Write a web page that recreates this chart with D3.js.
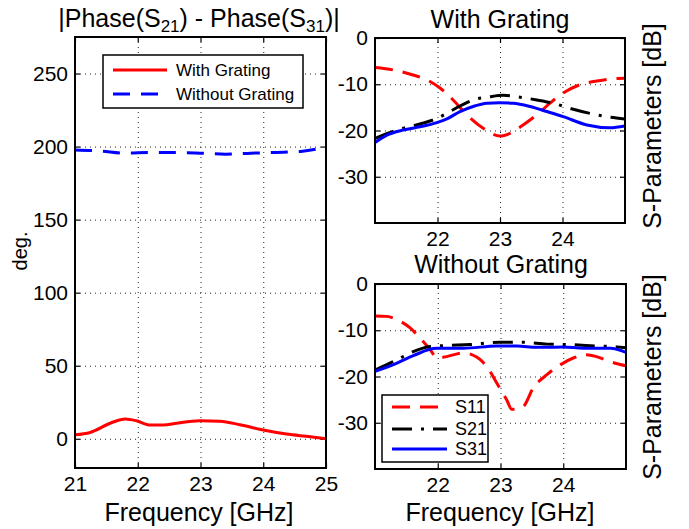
<!DOCTYPE html>
<html>
<head>
<meta charset="utf-8">
<script src="https://cdn.jsdelivr.net/npm/d3@7"></script>
<style>
  body { margin: 0; background: #fff; }
  text { font-family: "Liberation Sans", Arial, sans-serif; fill: #000; }
</style>
</head>
<body>
<svg id="chart" width="689" height="529"></svg>
<script>
// phase difference (left panel)
const phaseFreqWith = [21.0, 21.24, 21.58, 21.8, 21.98, 22.2, 22.41, 22.62, 22.99, 23.31, 23.63, 24.0, 24.37, 24.75, 25.0];
const phaseWith = [2.7, 4.3, 11, 13.5, 12.3, 9.4, 9.4, 10.7, 12.3, 12, 9.6, 6, 3.2, 1.4, 0];
const phaseFreqWithout = [21, 21.4, 21.8, 22.2, 22.6, 23.0, 23.4, 23.8, 24.2, 24.6, 25];
const phaseWithout = [197.7, 197, 195.5, 196, 196, 195.5, 194.8, 195.5, 196, 196.7, 199.5];
const phaseXTicks = [21, 22, 23, 24, 25];
const phaseYTicks = [0, 50, 100, 150, 200, 250];

// S-parameters with grating (top right)
const s11WithFreq = [21.0, 21.29, 21.61, 21.88, 22.04, 22.25, 22.47, 22.73, 23.0, 23.16, 23.37, 23.59, 23.8, 24.01, 24.28, 24.55, 24.81, 25.0];
const s11With = [-6.4, -6.9, -8.0, -9.4, -10.8, -13.4, -16.6, -19.5, -21.2, -20.6, -18.8, -16.6, -14.1, -11.9, -10.1, -9.3, -8.8, -8.7];
const s21WithFreq = [21.0, 21.35, 21.72, 21.99, 22.2, 22.36, 22.57, 22.84, 23.05, 23.32, 23.59, 23.85, 24.12, 24.44, 24.71, 25.0];
const s21With = [-21.7, -19.9, -18.6, -17.4, -15.9, -14.7, -13.4, -12.7, -12.4, -12.8, -13.4, -14.1, -15.2, -16.3, -17.0, -17.5];
const s31WithFreq = [21.0, 21.19, 21.45, 21.72, 21.99, 22.15, 22.36, 22.57, 22.79, 23.0, 23.21, 23.48, 23.75, 24.01, 24.39, 24.76, 25.0];
const s31With = [-22.6, -21.0, -19.9, -19.2, -18.3, -17.5, -15.9, -14.8, -14.1, -14.0, -14.1, -14.8, -15.9, -17.0, -18.8, -19.4, -19.0];

// S-parameters without grating (bottom right)
const s11WithoutFreq = [21.0, 21.19, 21.35, 21.56, 21.72, 21.88, 21.99, 22.14, 22.41, 22.62, 22.78, 22.94, 23.1, 23.18, 23.36, 23.52, 23.74, 23.95, 24.16, 24.37, 24.53, 24.75, 25.0];
const s11Without = [-6.9, -7.0, -7.7, -9.5, -11.7, -14.2, -16.0, -15.7, -14.9, -15.8, -17.8, -21.4, -25.1, -27.1, -26.5, -22.5, -19.6, -17.5, -16.0, -15.3, -15.7, -16.8, -17.7];
const s21WithoutFreq = [21.0, 21.35, 21.61, 21.88, 22.14, 22.51, 22.99, 23.36, 23.74, 24.11, 24.53, 24.85, 25.0];
const s21Without = [-18.6, -16.4, -14.6, -13.5, -13.3, -13.1, -12.6, -12.6, -13.0, -13.1, -13.4, -13.6, -13.8];
const s31WithoutFreq = [21.0, 21.35, 21.61, 21.98, 22.41, 22.94, 23.26, 23.58, 24.0, 24.32, 24.75, 25.0];
const s31Without = [-18.9, -17.1, -15.5, -13.9, -13.9, -13.4, -13.4, -13.7, -13.6, -13.9, -13.9, -14.8];
const sXTicks = [22, 23, 24];
const sYTicks = [0, -10, -20, -30];

const svg = d3.select("#chart");

const styles = {
  s11: { color: "#ff0000", dash: "18,10" },
  s21: { color: "#000000", dash: "20,9,3,9" },
  s31: { color: "#0000ff", dash: null },
  phWith: { color: "#ff0000", dash: null },
  phWithout: { color: "#0000ff", dash: "17,11" },
};

function zip(xs, ys) {
  return xs.map((x, i) => ({ x: x, y: ys[i] }));
}

function panel(opts) {
  const { left, top, right, bottom, xDomain, yDomain, xTicks, yTicks, id } = opts;
  const w = right - left, h = bottom - top;
  const x = d3.scaleLinear().domain(xDomain).range([0, w]);
  const y = d3.scaleLinear().domain(yDomain).range([h, 0]);
  const g = svg.append("g").attr("transform", `translate(${left},${top})`);
  const fmt = d3.format("d");

  g.append("defs").append("clipPath").attr("id", id)
    .append("rect").attr("width", w).attr("height", h);

  // grid
  g.append("g").attr("class", "grid")
    .attr("transform", `translate(0,${h})`)
    .call(d3.axisBottom(x).tickValues(xTicks).tickSize(-h).tickFormat(""));
  g.append("g").attr("class", "grid")
    .call(d3.axisLeft(y).tickValues(yTicks).tickSize(-w).tickFormat(""));
  g.selectAll(".grid .domain").remove();
  g.selectAll(".grid line")
    .attr("stroke", "#222").attr("stroke-width", 1).attr("stroke-dasharray", "1,4");

  // ticks and labels
  const xb = g.append("g").attr("transform", `translate(0,${h})`)
    .call(d3.axisBottom(x).tickValues(xTicks).tickFormat(fmt).tickSizeInner(-5).tickSizeOuter(0).tickPadding(8));
  const yl = g.append("g")
    .call(d3.axisLeft(y).tickValues(yTicks).tickFormat(fmt).tickSizeInner(-5).tickSizeOuter(0).tickPadding(7));
  const xt = g.append("g")
    .call(d3.axisTop(x).tickValues(xTicks).tickSizeInner(-5).tickSizeOuter(0).tickFormat(""));
  const yr = g.append("g").attr("transform", `translate(${w},0)`)
    .call(d3.axisRight(y).tickValues(yTicks).tickSizeInner(-5).tickSizeOuter(0).tickFormat(""));
  [xb, yl, xt, yr].forEach((a) => {
    a.select(".domain").remove();
    a.selectAll("line").attr("stroke", "#000").attr("stroke-width", 1.2);
    a.selectAll("text").style("font-size", "21px").attr("fill", "#000");
  });
  // MATLAB style hyphen minus
  yl.selectAll("text").text((d) => String(d));

  const plot = g.append("g").attr("clip-path", `url(#${id})`);
  const line = d3.line().x((d) => x(d.x)).y((d) => y(d.y)).curve(d3.curveMonotoneX);

  function addSeries(data, st) {
    plot.append("path")
      .datum(data)
      .attr("fill", "none")
      .attr("stroke", st.color)
      .attr("stroke-width", 3)
      .attr("stroke-dasharray", st.dash)
      .attr("d", line);
  }

  g.append("rect").attr("class", "frame")
    .attr("width", w).attr("height", h)
    .attr("fill", "none").attr("stroke", "#000").attr("stroke-width", 2);

  return { g, x, y, w, h, addSeries };
}

function legend(g, x0, y0, w, h, items, lineX0, lineX1, textX, fontSize) {
  const lg = g.append("g");
  lg.append("rect").attr("x", x0).attr("y", y0).attr("width", w).attr("height", h)
    .attr("fill", "#fff").attr("stroke", "#000").attr("stroke-width", 1.5);
  items.forEach((it) => {
    lg.append("line")
      .attr("x1", lineX0).attr("x2", lineX1).attr("y1", it.y).attr("y2", it.y)
      .attr("stroke", it.st.color).attr("stroke-width", 3)
      .attr("stroke-dasharray", it.st.dash);
    lg.append("text")
      .attr("x", textX).attr("y", it.y).attr("dy", "0.35em")
      .style("font-size", fontSize + "px")
      .text(it.label);
  });
}

// left panel
const p1 = panel({ id: "c1", left: 75, top: 37, right: 326, bottom: 468,
  xDomain: [21, 25], yDomain: [-20, 275], xTicks: phaseXTicks, yTicks: phaseYTicks });
p1.addSeries(zip(phaseFreqWith, phaseWith), styles.phWith);
p1.addSeries(zip(phaseFreqWithout, phaseWithout), styles.phWithout);

// top right panel
const p2 = panel({ id: "c2", left: 375, top: 38, right: 625, bottom: 223,
  xDomain: [21, 25], yDomain: [-40, 0], xTicks: sXTicks, yTicks: sYTicks });
p2.addSeries(zip(s11WithFreq, s11With), styles.s11);
p2.addSeries(zip(s21WithFreq, s21With), styles.s21);
p2.addSeries(zip(s31WithFreq, s31With), styles.s31);

// bottom right panel
const p3 = panel({ id: "c3", left: 375, top: 284, right: 626, bottom: 469,
  xDomain: [21, 25], yDomain: [-40, 0], xTicks: sXTicks, yTicks: sYTicks });
p3.addSeries(zip(s11WithoutFreq, s11Without), styles.s11);
p3.addSeries(zip(s21WithoutFreq, s21Without), styles.s21);
p3.addSeries(zip(s31WithoutFreq, s31Without), styles.s31);

// legends
legend(svg, 103, 55, 200, 53, [
  { y: 70, st: styles.phWith, label: "With Grating" },
  { y: 94, st: styles.phWithout, label: "Without Grating" },
], 113, 167, 176, 17);

legend(svg, 382, 395, 106, 67, [
  { y: 407, st: styles.s11, label: "S11" },
  { y: 429, st: styles.s21, label: "S21" },
  { y: 449, st: styles.s31, label: "S31" },
], 392, 447, 455, 18);

// titles
const title1 = svg.append("text").attr("x", 199).attr("y", 27)
  .attr("text-anchor", "middle").style("font-size", "25px");
title1.append("tspan").text("|Phase(S");
title1.append("tspan").attr("dy", 5).style("font-size", "17px").text("21");
title1.append("tspan").attr("dy", -5).text(") - Phase(S");
title1.append("tspan").attr("dy", 5).style("font-size", "17px").text("31");
title1.append("tspan").attr("dy", -5).text(")|");

svg.append("text").attr("x", 500).attr("y", 28).attr("text-anchor", "middle")
  .style("font-size", "25px").text("With Grating");
svg.append("text").attr("x", 501).attr("y", 273).attr("text-anchor", "middle")
  .style("font-size", "25px").text("Without Grating");

// axis labels
svg.append("text").attr("x", 199).attr("y", 521).attr("text-anchor", "middle")
  .style("font-size", "25px").text("Frequency [GHz]");
svg.append("text").attr("x", 500).attr("y", 521).attr("text-anchor", "middle")
  .style("font-size", "25px").text("Frequency [GHz]");
svg.append("text").attr("transform", "translate(27,251) rotate(-90)")
  .attr("text-anchor", "middle").style("font-size", "20px").text("deg.");
svg.append("text").attr("transform", "translate(661,126) rotate(-90)")
  .attr("text-anchor", "middle").style("font-size", "25px").text("S-Parameters [dB]");
svg.append("text").attr("transform", "translate(661,377) rotate(-90)")
  .attr("text-anchor", "middle").style("font-size", "25px").text("S-Parameters [dB]");
</script>
</body>
</html>
